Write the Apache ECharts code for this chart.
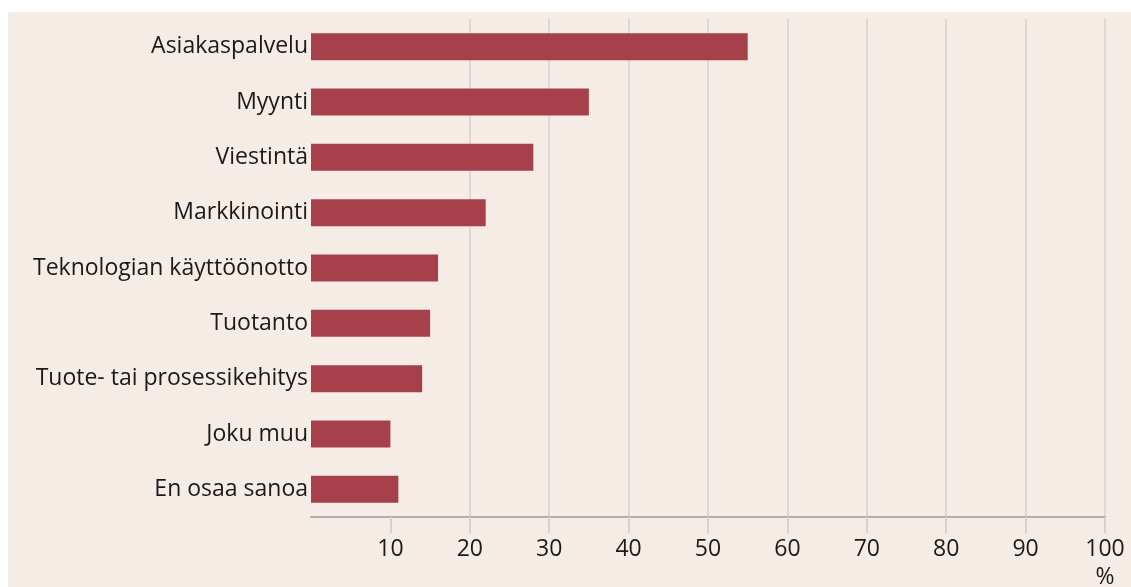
<!DOCTYPE html>
<html lang="fi">
<head>
    <meta charset="UTF-8">
    <title>Tekoälyn käyttökohteet</title>
    <style>
        html, body {
            margin: 0;
            padding: 0;
            background: #ffffff;
        }
        #J-bar-chart-container {
            position: absolute;
            left: 8px;
            top: 12px;
            width: 1123px;
            height: 575px;
        }
    </style>
</head>
<body>

<div id="J-bar-chart-container"></div>

<script src="https://cdn.jsdelivr.net/npm/echarts@6/dist/echarts.min.js"></script>
<script>
    var categories = [
        'Asiakaspalvelu',
        'Myynti',
        'Viestintä',
        'Markkinointi',
        'Teknologian käyttöönotto',
        'Tuotanto',
        'Tuote- tai prosessikehitys',
        'Joku muu',
        'En osaa sanoa'
    ];
    var values = [55, 35, 28, 22, 16, 15, 14, 10, 11];
    var tickValues = [10, 20, 30, 40, 50, 60, 70, 80, 90, 100];

    var barChart = echarts.init(document.getElementById('J-bar-chart-container'));

    var option = {
        backgroundColor: '#f5ece6',
        textStyle: {
            fontFamily: 'Open Sans'
        },
        grid: {
            left: 303,
            right: 26,
            top: 7,
            bottom: 70,
            containLabel: false,
            outerBoundsMode: 'none'
        },
        xAxis: {
            type: 'value',
            min: 0,
            max: 100,
            interval: 10,
            axisLine: {
                show: true,
                lineStyle: {
                    color: '#b0aeac',
                    width: 2
                }
            },
            axisTick: {
                show: true,
                length: 16,
                customValues: tickValues,
                lineStyle: {
                    color: '#d6d2cf',
                    width: 2
                }
            },
            axisLabel: {
                customValues: tickValues,
                margin: 18,
                fontSize: 23,
                lineHeight: 28,
                color: '#1a1a1a',
                formatter: function (value) {
                    return value === 100 ? '100\n%' : String(value);
                }
            },
            splitLine: {
                show: true,
                showMinLine: false,
                lineStyle: {
                    color: '#dcd8d5',
                    width: 2
                }
            }
        },
        yAxis: {
            type: 'category',
            inverse: true,
            data: categories,
            axisLine: { show: false },
            axisTick: { show: false },
            axisLabel: {
                margin: 3,
                fontSize: 23,
                color: '#1a1a1a'
            }
        },
        series: [
            {
                type: 'bar',
                data: values,
                barWidth: 27,
                itemStyle: {
                    color: '#a6414c'
                },
                z: 3
            }
        ]
    };

    barChart.setOption(option);
</script>
</body>
</html>
